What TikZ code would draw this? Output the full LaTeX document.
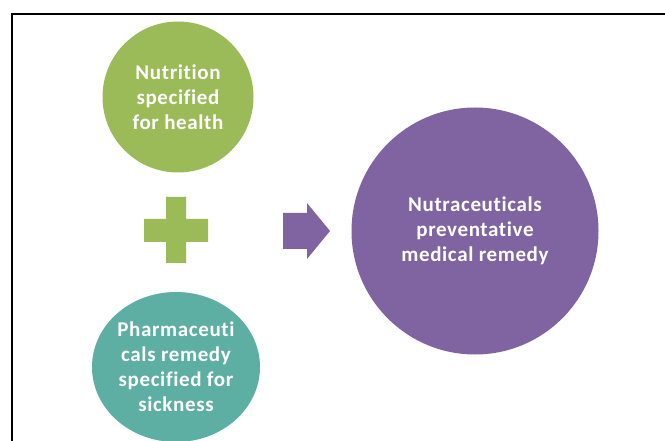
\documentclass[tikz,border=0pt]{standalone}
\usepackage{fontspec}
\setmainfont{Carlito}[Ligatures=CommonOff, LetterSpace=3]
\usetikzlibrary{shapes}
\definecolor{leafgreen}{HTML}{9BBB59}
\definecolor{seateal}{HTML}{5EAFA3}
\definecolor{plum}{HTML}{8064A2}

\begin{document}
\begin{tikzpicture}[x=1pt, y=-1pt]
	\tikzstyle{bubble}=[
	circle,
	inner sep=0pt,
	text=white,
	align=center,
	font=\bfseries\fontsize{21}{25}\selectfont
	]
	\tikzstyle{sign}=[fill=leafgreen]
	\useasboundingbox (0,0) rectangle (665,441);
	\clip (0,0) rectangle (665,441);
	%
	\draw[line width=2pt] (12,441) |- (665,14);
	%
	\node[bubble, fill=leafgreen, minimum size=151pt] (food) at (178,97) {Nutrition\\specified\\for health};
	\node[bubble, ellipse, fill=seateal, minimum width=168pt, minimum height=150pt] (pharma) at (176,367) {Pharmaceuti\\cals remedy\\specified for\\sickness};
	\node[bubble, fill=plum, minimum size=247pt] (nutra) at (475,231) {Nutraceuticals\\preventative\\medical remedy};
	%
	\fill[sign] (166,197) rectangle (186,263) (144,219) rectangle (208,242);
	\fill[plum] (283,213) -- (307,213) -- (307,203) -- (330,231) -- (307,259) -- (307,249) -- (283,249) -- cycle;
\end{tikzpicture}
\end{document}
